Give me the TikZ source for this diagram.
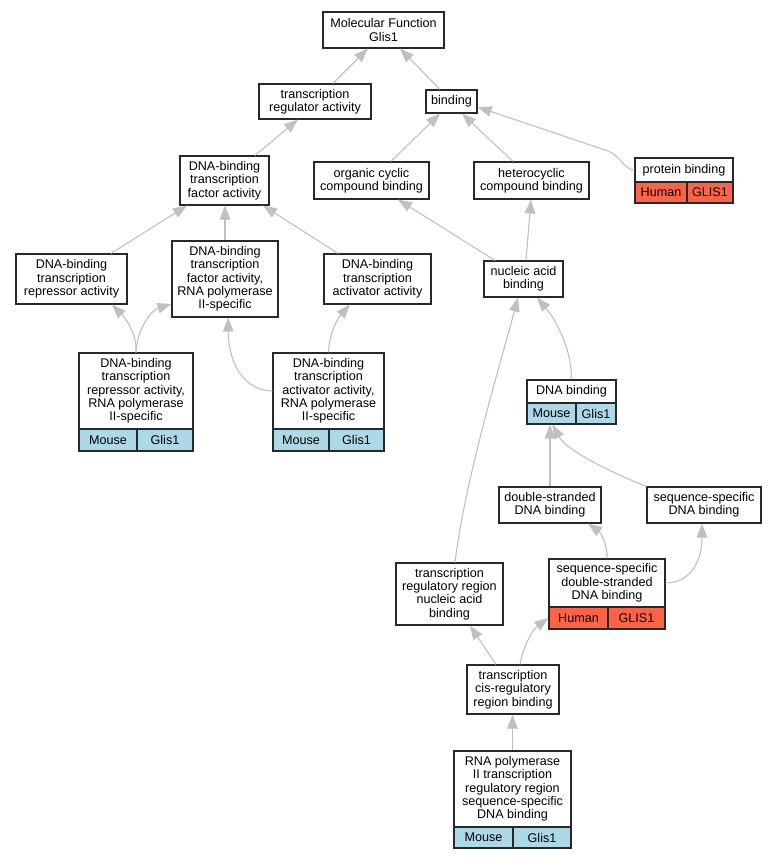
\documentclass[tikz,border=0pt]{standalone}
\usepackage{fontspec}
\usetikzlibrary{arrows.meta}
\newfontfamily\gofont{Liberation Sans}
\definecolor{golightblue}{RGB}{173,216,230}
\definecolor{gotomato}{RGB}{255,99,71}
\definecolor{goedge}{RGB}{192,192,192}
\definecolor{goborder}{RGB}{40,40,40}
\tikzset{
  gobox/.style={draw=goborder, line width=1.1pt, fill=white, inner sep=0pt, align=center,
    font=\gofont\fontsize{12.6}{13.3}\selectfont},
  mousecell/.style={gobox, fill=golightblue},
  humancell/.style={gobox, fill=gotomato},
  sz/.style 2 args={minimum width=#1pt, minimum height=#2pt},
  isa/.style={draw=goedge, line width=1.1pt, -{Triangle[length=14pt,width=10.5pt,fill=goedge]}},
}
\begin{document}
\begin{tikzpicture}[x=1pt,y=-1pt]
\useasboundingbox (0,0) rectangle (777,859);
% nodes
\node[gobox, sz={121}{36}] (mf) at (383.5,30) {Molecular Function\\Glis1};
\node[gobox, sz={112}{35}] (tra) at (315,101.5) {transcription\\regulator activity};
\node[gobox, sz={51}{23}] (bind) at (451.5,101.5) {binding};
\node[gobox, sz={115}{37}] (occ) at (371.5,180.5) {organic cyclic\\compound binding};
\node[gobox, sz={115}{37}] (hcc) at (531.5,180.5) {heterocyclic\\compound binding};
\node[gobox, sz={98}{24}] (pb) at (684,170) {protein binding};
\node[humancell, sz={52}{21}] (pbh) at (661,192.5) {Human};
\node[humancell, sz={46}{21}] (pbg) at (710,192.5) {GLIS1};
\node[gobox, sz={89}{49}] (tfa) at (224.5,180.5) {DNA-binding\\transcription\\factor activity};
\node[gobox, sz={111}{50}] (rep) at (71.5,279) {DNA-binding\\transcription\\repressor activity};
\node[gobox, sz={106}{76}] (tfp) at (225,279) {DNA-binding\\transcription\\factor activity,\\RNA polymerase\\II-specific};
\node[gobox, sz={107}{50}] (act) at (377.5,279) {DNA-binding\\transcription\\activator activity};
\node[gobox, sz={114}{76}] (reppol) at (136,391) {DNA-binding\\transcription\\repressor activity,\\RNA polymerase\\II-specific};
\node[mousecell, sz={58}{22}] (reppolm) at (108,440) {Mouse};
\node[mousecell, sz={56}{22}] (reppolg) at (165,440) {Glis1};
\node[gobox, sz={111}{76}] (actpol) at (328.5,391) {DNA-binding\\transcription\\activator activity,\\RNA polymerase\\II-specific};
\node[mousecell, sz={56}{22}] (actpolm) at (301,440) {Mouse};
\node[mousecell, sz={55}{22}] (actpolg) at (356.5,440) {Glis1};
\node[gobox, sz={79}{36}] (nab) at (523.5,279) {nucleic acid\\binding};
\node[gobox, sz={89}{23}] (dnab) at (571.5,391.5) {DNA binding};
\node[mousecell, sz={49}{21}] (dnabm) at (551.5,413.5) {Mouse};
\node[mousecell, sz={40}{21}] (dnabg) at (596,413.5) {Glis1};
\node[gobox, sz={102}{36}] (dsb) at (550,505) {double-stranded\\DNA binding};
\node[gobox, sz={114}{36}] (ssb) at (704,505) {sequence-specific\\DNA binding};
\node[gobox, sz={116}{48}] (ssds) at (607,583) {sequence-specific\\double-stranded\\DNA binding};
\node[humancell, sz={59}{22}] (ssdsh) at (578.5,618) {Human};
\node[humancell, sz={57}{22}] (ssdsg) at (636.5,618) {GLIS1};
\node[gobox, sz={107}{62}] (trnab) at (449.5,594) {transcription\\regulatory region\\nucleic acid\\binding};
\node[gobox, sz={92}{49}] (cis) at (513,689.5) {transcription\\cis-regulatory\\region binding};
\node[gobox, sz={117}{76}] (rnap) at (512.5,789) {RNA polymerase\\II transcription\\regulatory region\\sequence-specific\\DNA binding};
\node[mousecell, sz={59}{21}] (rnapm) at (483.5,837.5) {Mouse};
\node[mousecell, sz={58}{21}] (rnapg) at (542,837.5) {Glis1};
% edges
\draw[isa] ([xshift=18pt]tra.north) -- ([xshift=-15.5pt]mf.south);
\draw[isa] ([xshift=-11.5pt]bind.north) -- ([xshift=16.5pt]mf.south);
\draw[isa] ([xshift=19.5pt]occ.north) -- ([xshift=-11.5pt]bind.south);
\draw[isa] ([xshift=-18.5pt]hcc.north) -- ([xshift=10.5pt]bind.south);
\draw[isa] (pb.west) .. controls (624,170) and (621,156) .. (608,151) -- ([yshift=-5.5pt]bind.east);
\draw[isa] ([xshift=30.5pt]tfa.north) -- ([xshift=-17pt]tra.south);
\draw[isa] ([xshift=39.5pt]rep.north) -- ([xshift=-37.5pt]tfa.south);
\draw[isa] (tfp.north) -- (tfp.north |- tfa.south);
\draw[isa] ([xshift=-39.5pt]act.north) -- ([xshift=38.5pt]tfa.south);
\draw[isa] ([xshift=-28.5pt]nab.north) -- ([xshift=26.5pt]occ.south);
\draw[isa] ([xshift=2.5pt]nab.north) -- ([xshift=-0.5pt]hcc.south);
\draw[isa] (reppol.north) .. controls (137,335) and (127,320) .. ([xshift=40.5pt]rep.south);
\draw[isa] (reppol.north) .. controls (137,328) and (152,310) .. ([yshift=-25pt]tfp.west);
\draw[isa] (actpol.west) .. controls (246,390) and (229,368) .. ([xshift=3pt]tfp.south);
\draw[isa] (actpol.north) .. controls (329,334) and (338,318) .. ([xshift=-27.5pt]act.south);
\draw[isa] (dnab.north) .. controls (572,350) and (556,320) .. ([xshift=13.5pt]nab.south);
\draw[isa] ([xshift=5.5pt]trnab.north) .. controls (465,480) and (500,365) .. ([xshift=-5.5pt]nab.south);
\draw[isa] (dsb.north) -- (dsb.north |- dnabm.south);
\draw[isa] (ssb.north west) .. controls (600,468) and (565,448) .. ([xshift=1pt]dnabm.south);
\draw[isa] (ssds.north) .. controls (608,545) and (600,532) .. ([xshift=38pt]dsb.south);
\draw[isa] (ssds.east) .. controls (690,583) and (702,562) .. ([xshift=-2pt]ssb.south);
\draw[isa] ([xshift=-17pt]cis.north) -- ([xshift=20.5pt]trnab.south);
\draw[isa] ([xshift=7pt]cis.north) .. controls (522,650) and (532,630) .. (ssdsh.west);
\draw[isa] (rnap.north) -- (rnap.north |- cis.south);
\end{tikzpicture}
\end{document}
